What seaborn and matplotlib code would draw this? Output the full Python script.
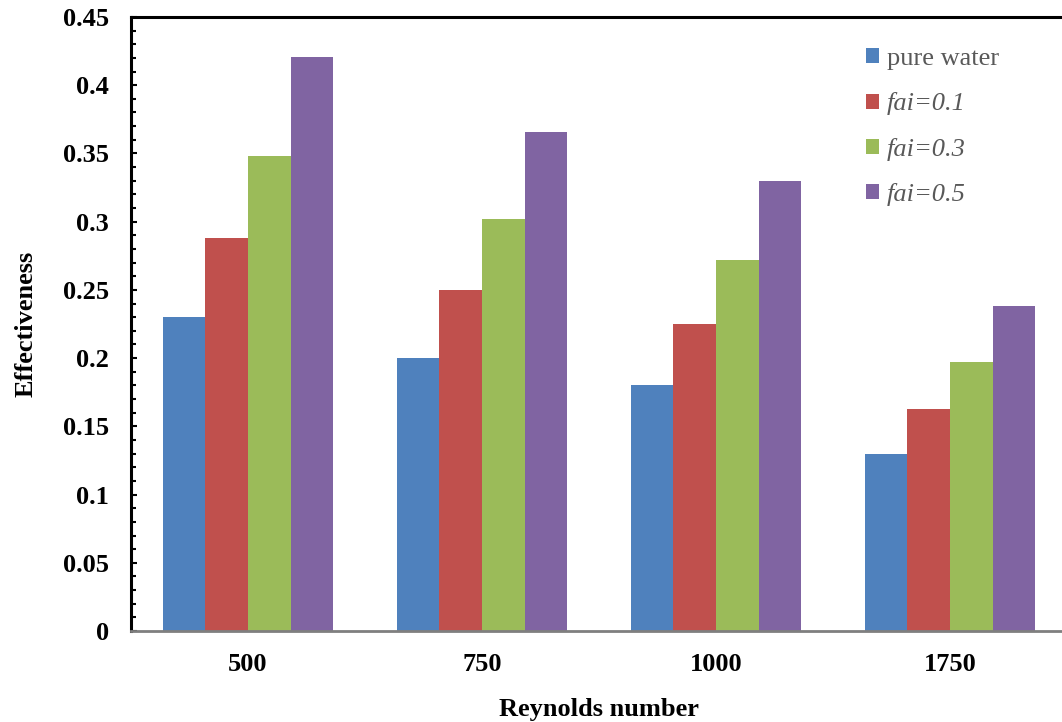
import matplotlib
matplotlib.use("Agg")
import matplotlib.pyplot as plt
from matplotlib.ticker import MultipleLocator, FormatStrFormatter
import seaborn as sns
import pandas as pd

# Effectiveness for each Reynolds number and nanofluid volume fraction
reynolds = ["500", "750", "1000", "1750"]
series = ["pure water", "fai=0.1", "fai=0.3", "fai=0.5"]
pure_water = [0.230, 0.200, 0.180, 0.130]
fai_01 = [0.288, 0.250, 0.225, 0.163]
fai_03 = [0.348, 0.302, 0.272, 0.197]
fai_05 = [0.421, 0.366, 0.330, 0.238]
colors = ["#4F81BD", "#C0504D", "#9BBB59", "#8064A2"]

rows = []
for name, vals in zip(series, [pure_water, fai_01, fai_03, fai_05]):
    for re_, v in zip(reynolds, vals):
        rows.append({"Reynolds": re_, "series": name, "value": v})
df = pd.DataFrame(rows)

sns.set_style("white")
plt.rcParams["font.family"] = ["Liberation Serif", "DejaVu Serif"]

fig = plt.figure(figsize=(10.62, 7.22), dpi=100)
ax = fig.add_axes([0.1234, 0.126, 0.8813, 0.8505])

sns.barplot(data=df, x="Reynolds", y="value", hue="series", order=reynolds,
            hue_order=series, palette=colors, width=0.73, gap=0,
            saturation=1, linewidth=0, ax=ax)

ax.set_xlim(-0.5, 3.5)
ax.set_ylim(0, 0.45)
ax.yaxis.set_major_locator(MultipleLocator(0.05))
ax.yaxis.set_minor_locator(MultipleLocator(0.01))
ax.yaxis.set_major_formatter(FormatStrFormatter("%g"))

ax.tick_params(axis="y", which="major", direction="in", length=4.5, width=1.5,
               color="black", pad=16, labelsize=19, left=True)
ax.tick_params(axis="y", which="minor", direction="in", length=3.5, width=1.5,
               color="black", left=True)
ax.tick_params(axis="x", length=0, pad=16, labelsize=19)
for lab in ax.get_xticklabels() + ax.get_yticklabels():
    lab.set_fontweight("bold")
    lab.set_color("black")

ax.set_xlabel("Reynolds number", fontsize=19, fontweight="bold", labelpad=16,
              color="black")
ax.set_ylabel("Effectiveness", fontsize=19, fontweight="bold", labelpad=18,
              color="black")

for side in ["left", "top"]:
    ax.spines[side].set_color("black")
    ax.spines[side].set_linewidth(2.2)
ax.spines["bottom"].set_color("#7f7f7f")
ax.spines["bottom"].set_linewidth(2.0)
ax.spines["right"].set_visible(False)

leg = ax.legend(loc="upper left", bbox_to_anchor=(866 / 1062, 1 - 48 / 722),
                bbox_transform=fig.transFigure, frameon=False, fontsize=19,
                handlelength=0.5, handleheight=0.5, handletextpad=0.3,
                labelspacing=0.85, borderaxespad=0, borderpad=0)
for i, txt in enumerate(leg.get_texts()):
    txt.set_color("#595959")
    if i > 0:
        txt.set_fontstyle("italic")

fig.savefig("out.png", dpi=100)
